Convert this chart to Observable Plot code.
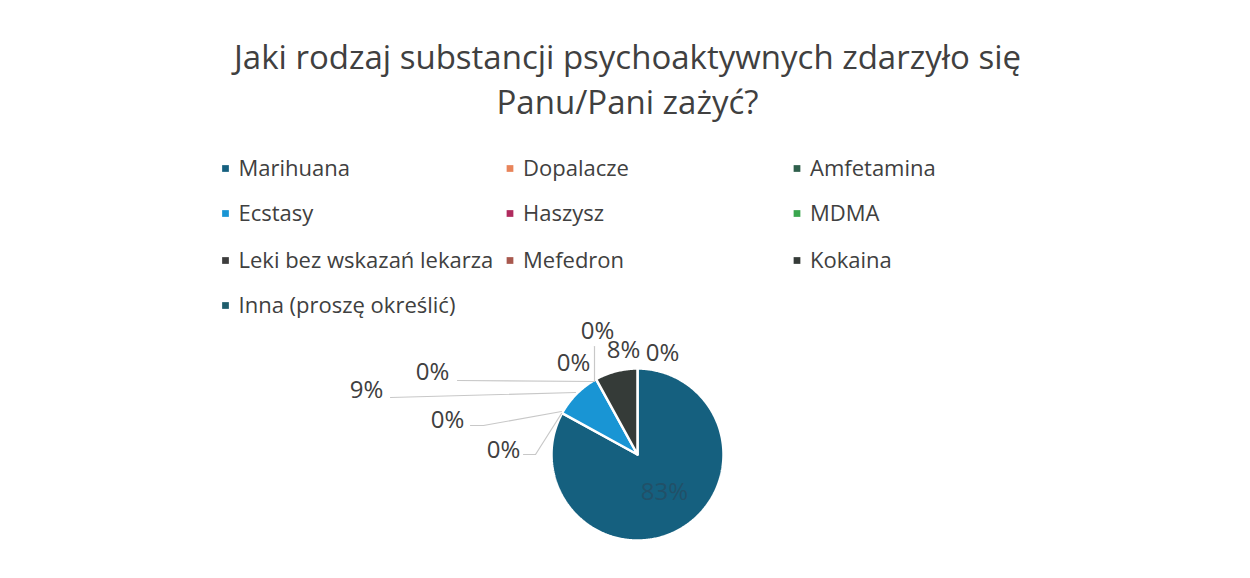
<!DOCTYPE html>
<html><head><meta charset="utf-8">
<script src="https://cdn.jsdelivr.net/npm/d3@7"></script>
<script src="https://cdn.jsdelivr.net/npm/@observablehq/plot@0.6"></script>
<style>body{margin:0;background:#fff}</style>
</head><body><div id="chart"></div>
<script>
const titleLines = ["Jaki rodzaj substancji psychoaktywnych zdarzyło się", "Panu/Pani zażyć?"];
const categories = ["Marihuana","Dopalacze","Amfetamina","Ecstasy","Haszysz","MDMA","Leki bez wskazań lekarza","Mefedron","Kokaina","Inna (proszę określić)"];
const values = [83,0,0,9,0,0,0,0,8,0];
const colors = ["#15607f","#e8845a","#2f5f4c","#1995d4","#b02b5e","#3aa64e","#3d3d3d","#a8584e","#353b38","#1f5d6c"];

// layout
const W = 1250, H = 578;
const cx = 637, cy = 454, R = 86;
const textColor = "#404040";
const font = "Open Sans";
const legendCols = [225, 509.5, 796.5];
const legendRows = [168, 213, 260, 305];
// label positions (null = hidden behind another label, as in the original)
const labelPos = [[664,492],[503,450],[447,420],[366,390],[432,372],[573,363],[597,331],null,[623,350],[662,353]];
const leaders = [null,
  [[523,454],[535,454],[561,413]],
  [[470,425],[483,425],[561,411]],
  [[390,397],[575,392]],
  [[457,380],[594,381]],
  null,
  [[594,346],[594,381]],
  null, null, null];

const arcs = d3.pie().sort(null).value(v => v).startAngle(0).endAngle(2*Math.PI)(values);
const marks = [];
// slices
arcs.forEach((a, i) => {
  const span = a.endAngle - a.startAngle;
  if (span <= 0) return;
  const n = Math.max(2, Math.ceil(span * 80));
  const pts = [[cx, cy]];
  for (let k = 0; k <= n; k++) {
    const t = a.startAngle + span * k / n;
    pts.push([cx + R * Math.sin(t), cy - R * Math.cos(t)]);
  }
  pts.push([cx, cy]);
  marks.push(Plot.line(pts, {x: d => d[0], y: d => d[1], fill: colors[i], stroke: "white", strokeWidth: 2.5, strokeLinejoin: "miter"}));
});
// leader lines
leaders.forEach(l => { if (l) marks.push(Plot.line(l, {x: d => d[0], y: d => d[1], stroke: "#c8c8c8", strokeWidth: 1.2})); });
// data labels
const labelData = values.map((v, i) => labelPos[i] && ({t: v + "%", x: labelPos[i][0], y: labelPos[i][1], inside: i === 0})).filter(Boolean);
marks.push(Plot.text(labelData, {
  x: "x", y: "y", text: "t", fontSize: 24, fill: d => d.inside ? "#215068" : textColor, textAnchor: "middle"
}));
// title
marks.push(Plot.text(titleLines.map((t, i) => ({t, y: 58 + i * 45})), {x: () => 627, y: "y", text: "t", fontSize: 33, fill: textColor, textAnchor: "middle"}));
// legend
const legendData = categories.map((c, i) => ({c, col: colors[i], x: legendCols[i % 3], y: legendRows[Math.floor(i / 3)]}));
marks.push(Plot.dot(legendData, {x: "x", y: "y", symbol: "square", r: 3.8, fill: d => d.col, stroke: null}));
marks.push(Plot.text(legendData, {x: d => d.x + 13, y: "y", text: "c", fontSize: 22, fill: textColor, textAnchor: "start"}));

const chart = Plot.plot({
  width: W, height: H, margin: 0,
  x: {domain: [0, W], range: [0, W], axis: null},
  y: {domain: [0, H], range: [0, H], axis: null},
  color: {type: "identity"},
  style: {fontFamily: font, background: "white"},
  marks
});
document.getElementById("chart").appendChild(chart);
</script></body></html>
